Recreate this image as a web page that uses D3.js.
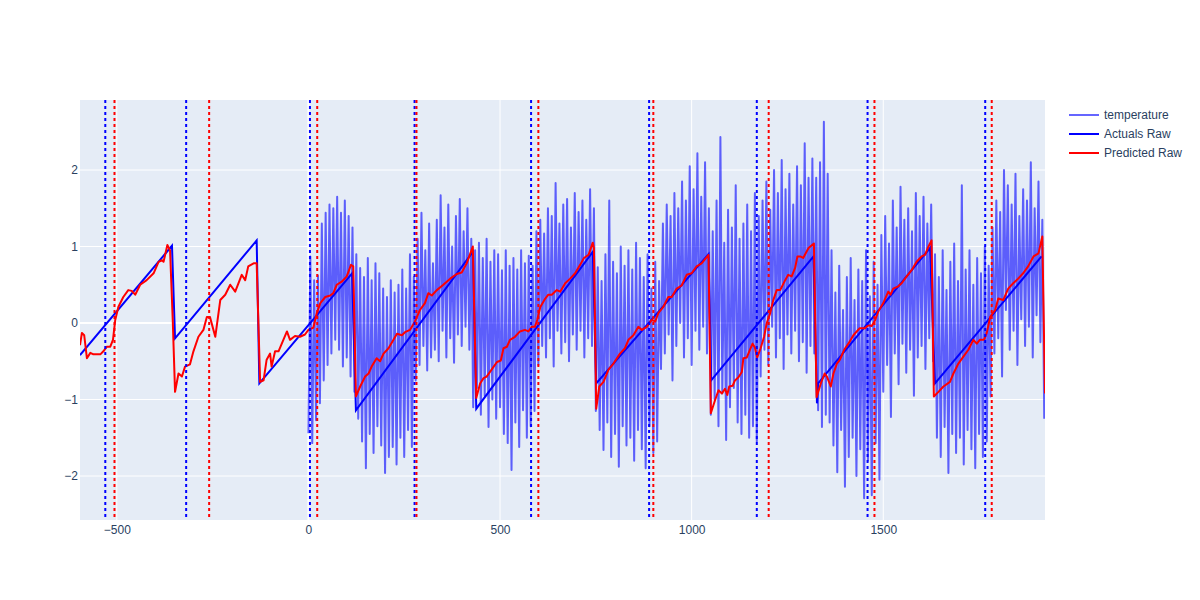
<!DOCTYPE html>
<html>
<head>
<meta charset="utf-8">
<script src="https://cdn.jsdelivr.net/npm/d3@7"></script>
<style>
  body { margin: 0; background: #fff; }
  text { font-family: "Liberation Sans", Arial, sans-serif; }
</style>
</head>
<body>
<div class="canvas"></div>
<script>
// Ticks
const xTicks = [-500, 0, 500, 1000, 1500];
const yTicks = [-2, -1, 0, 1, 2];

// Actuals Raw (segment ends)
const actualsX = [-596, -356, -348, -135, -128, 114, 124, 429, 438, 742, 751, 1044, 1051, 1318, 1327, 1330, 1622, 1635, 1913];
const actualsY = [-0.42, 1.01, -0.20, 1.08, -0.79, 0.65, -1.14, 0.93, -1.12, 0.93, -0.79, 0.90, -0.75, 0.87, -1.05, -0.79, 0.98, -0.79, 0.87];

// Predicted Raw
const predX = [-596, -591, -585, -578, -569, -561, -543, -535, -526, -517, -510, -504, -496, -483, -470, -461, -452, -439, -422, -404,
  -391, -382, -378, -368, -361, -354, -348, -339, -330, -322, -309, -300, -287, -274, -265, -257, -243, -230, -217, -204,
  -191, -174, -165, -157, -143, -135, -126, -117, -109, -100, -96, -87, -78, -67, -56, -48, -35, -22, -9, 0,
  13, 22, 31, 44, 57, 65, 74, 87, 100, 111, 117, 124, 135, 148, 157, 165, 178, 187, 196, 209,
  222, 231, 244, 252, 265, 278, 291, 304, 313, 322, 335, 352, 370, 387, 400, 413, 429, 438, 448, 457,
  465, 478, 492, 502, 509, 518, 526, 539, 552, 565, 574, 583, 591, 597, 605, 618, 626, 635, 648, 657,
  670, 683, 696, 709, 719, 731, 742, 745, 751, 759, 770, 783, 796, 813, 826, 835, 848, 861, 870, 883,
  896, 905, 913, 926, 939, 948, 961, 974, 987, 1000, 1013, 1026, 1044, 1050, 1061, 1070, 1079, 1087, 1093, 1098,
  1107, 1113, 1122, 1131, 1135, 1144, 1152, 1159, 1165, 1171, 1180, 1189, 1196, 1205, 1213, 1222, 1231, 1244, 1252, 1261,
  1270, 1276, 1283, 1291, 1305, 1319, 1326, 1337, 1347, 1353, 1363, 1370, 1379, 1387, 1398, 1409, 1422, 1438, 1452, 1461,
  1470, 1479, 1487, 1500, 1513, 1519, 1526, 1539, 1548, 1561, 1574, 1587, 1600, 1609, 1618, 1626, 1632, 1644, 1657, 1674,
  1683, 1696, 1709, 1722, 1735, 1744, 1752, 1763, 1770, 1779, 1792, 1800, 1813, 1826, 1839, 1852, 1865, 1878, 1892, 1905,
  1915, 1922];
const predY = [-0.29, -0.13, -0.16, -0.46, -0.39, -0.41, -0.41, -0.37, -0.31, -0.31, -0.22, 0.04, 0.21, 0.34, 0.43, 0.42, 0.37, 0.50, 0.56, 0.65,
  0.80, 0.82, 0.80, 1.02, 0.95, 0.04, -0.90, -0.66, -0.70, -0.57, -0.54, -0.37, -0.18, -0.09, 0.08, 0.08, -0.18, 0.30, 0.37, 0.50,
  0.41, 0.63, 0.56, 0.74, 0.78, 0.78, -0.77, -0.75, -0.48, -0.40, -0.57, -0.37, -0.37, -0.24, -0.11, -0.22, -0.17, -0.18, -0.15, -0.09,
  -0.06, 0.13, 0.26, 0.34, 0.36, 0.39, 0.50, 0.54, 0.61, 0.76, 0.74, -0.96, -0.83, -0.70, -0.66, -0.57, -0.46, -0.50, -0.40, -0.33,
  -0.22, -0.14, -0.16, -0.12, -0.09, 0.02, 0.17, 0.26, 0.39, 0.36, 0.43, 0.50, 0.58, 0.64, 0.66, 0.78, 1.00, -0.98, -0.79, -0.72,
  -0.70, -0.61, -0.51, -0.49, -0.33, -0.31, -0.22, -0.18, -0.11, -0.09, -0.11, -0.05, -0.05, 0.04, 0.21, 0.32, 0.37, 0.37, 0.43, 0.41,
  0.52, 0.58, 0.65, 0.76, 0.85, 0.89, 1.05, 0.98, -1.12, -0.83, -0.77, -0.61, -0.53, -0.40, -0.33, -0.22, -0.16, -0.05, -0.09, -0.05,
  0.04, 0.02, 0.13, 0.21, 0.34, 0.34, 0.45, 0.49, 0.63, 0.65, 0.74, 0.78, 0.89, -1.18, -1.01, -0.88, -0.92, -0.86, -0.94, -0.83,
  -0.82, -0.75, -0.71, -0.64, -0.46, -0.45, -0.35, -0.27, -0.32, -0.45, -0.33, -0.18, 0.00, 0.13, 0.30, 0.43, 0.43, 0.56, 0.63, 0.61,
  0.72, 0.87, 0.87, 0.85, 0.98, 1.04, -0.97, -0.79, -0.66, -0.70, -0.83, -0.66, -0.53, -0.48, -0.35, -0.27, -0.16, -0.07, -0.07, -0.03,
  -0.04, 0.04, 0.15, 0.26, 0.41, 0.37, 0.45, 0.48, 0.52, 0.61, 0.69, 0.80, 0.87, 0.89, 1.00, 1.08, -0.96, -0.90, -0.83, -0.77,
  -0.66, -0.53, -0.44, -0.35, -0.22, -0.27, -0.22, -0.22, -0.13, 0.08, 0.17, 0.32, 0.30, 0.45, 0.52, 0.58, 0.65, 0.74, 0.87, 0.91,
  1.13, -0.92];

// temperature, one reading every 5 units from x = 0
const tempStart = 0;
const tempStep = 5;
const tempValues = [
  -1.44, 0.87, -1.57, 0.56, -1.27, 0.62, -1.05, 1.30, -0.75, 1.44, -0.55, 1.55, -0.40, 1.50, -0.22, 1.65, -0.35, 1.44, -0.57, 1.60,
  -0.45, 1.40, -0.70, 1.25, -0.90, 0.90, -1.25, 0.72, -1.55, 0.60, -1.90, 0.85, -1.45, 0.56, -1.70, 0.78, -1.35, 0.65, -1.60, 0.45,
  -1.96, 0.34, -1.75, 0.56, -1.62, 0.40, -1.85, 0.50, -1.50, 0.70, -1.75, 0.45, -1.40, 0.90, -1.62, 0.60, -0.75, 1.10, -0.55, 1.44,
  -0.30, 0.95, -0.62, 1.30, -0.45, 0.78, -0.35, 1.35, -0.50, 1.67, -0.10, 1.25, -0.45, 1.55, -0.20, 1.00, -0.52, 1.40, -0.15, 1.62,
  -0.30, 1.20, -0.05, 1.50, -0.35, 1.10, -1.10, 0.95, -0.85, 1.05, -1.20, 0.85, -0.95, 1.10, -1.36, 0.80, -1.00, 0.95, -1.25, 0.90,
  -1.10, 0.69, -1.45, 0.95, -1.57, 0.75, -1.92, 0.85, -1.30, 0.70, -1.62, 0.95, -1.14, 0.78, -1.50, 0.88, -1.35, 0.75, -1.15, 1.20,
  -0.55, 1.35, -0.30, 1.17, -0.45, 1.50, -0.20, 1.40, -0.57, 1.83, -0.10, 1.30, -0.40, 1.55, -0.25, 1.62, -0.50, 1.25, -0.15, 1.70,
  -0.35, 1.45, -0.10, 1.60, -0.45, 1.35, -0.20, 1.75, -0.30, 1.50, -1.15, 0.73, -1.40, 0.55, -1.66, 0.90, -1.30, 1.60, -1.75, 0.80,
  -1.45, 0.65, -1.88, 1.00, -1.35, 0.75, -1.60, 0.95, -1.50, 0.70, -1.80, 1.05, -1.40, 0.85, -1.65, 0.60, -1.90, 0.90, -1.35, 0.45,
  -1.70, 0.80, -1.55, 0.55, -0.60, 1.30, -0.40, 1.55, -0.15, 1.40, -0.75, 1.70, -0.30, 1.50, 0.00, 1.85, -0.45, 1.60, -0.20, 2.05,
  -0.55, 1.75, -0.10, 2.22, -0.35, 1.65, -0.05, 2.10, -0.40, 1.50, -1.20, 1.20, -1.00, 1.60, -1.35, 2.43, -0.92, 1.05, -1.53, 1.48,
  -1.10, 1.25, -0.85, 1.80, -1.30, 1.10, -1.45, 1.30, -1.20, 1.55, -1.50, 1.20, -1.35, 1.70, -1.55, 1.40, -0.70, 1.60, -0.35, 1.85,
  -0.55, 1.48, -0.05, 2.00, -0.45, 1.70, -0.20, 2.13, -0.60, 1.75, -0.15, 1.95, -0.40, 1.55, -0.10, 2.05, -0.50, 1.80, -0.25, 2.35,
  -0.65, 1.90, -0.30, 2.15, -0.40, 1.90, -1.14, 2.10, -1.36, 2.63, -1.20, 1.95, -1.30, 0.95, -1.60, 0.40, -1.95, 0.75, -1.40, 0.17,
  -2.14, 0.60, -1.75, 0.85, -1.50, 0.30, -2.00, 0.70, -1.65, 0.55, -2.29, 0.95, -1.80, 0.35, -2.25, 0.80, -1.57, 0.50, -2.05, 1.15,
  -0.90, 1.40, -0.55, 1.04, -1.23, 1.60, -0.40, 1.25, -0.80, 1.78, -0.27, 1.35, -0.65, 1.50, -0.35, 1.20, -0.95, 1.70, -0.45, 1.40,
  -0.30, 1.65, -0.60, 1.30, -0.20, 1.55, -0.50, 0.90, -1.50, 0.60, -1.75, 0.95, -1.36, 0.43, -1.96, 0.80, -1.45, 1.04, -1.70, 0.55,
  -1.50, 1.80, -1.85, 0.70, -1.40, 0.95, -1.65, 0.50, -1.90, 0.85, -1.45, 0.65, -1.75, 1.00, -1.55, 0.75, -0.96, 1.25, -0.40, 1.60,
  -0.20, 1.45, -0.70, 2.00, 0.17, 1.80, -0.35, 1.55, -0.10, 1.95, -0.55, 1.40, 0.05, 1.75, -0.30, 1.60, -0.05, 2.10, -0.45, 1.50,
  0.10, 1.85, -0.25, 1.35, -1.25
];

// vline positions
const actualLines = [-530, -319, 4, 277, 581, 889, 1170, 1459, 1766];
const predLines = [-506, -259, 23, 282, 600, 900, 1201, 1477, 1783];

// legend
const legendNames = ['temperature', 'Actuals Raw', 'Predicted Raw'];

// Graph set up
const svgWidth = 1200;
const svgHeight = 600;
const margin = {top: 100, right: 155, bottom: 80, left: 80};
const graphWidth = svgWidth - margin.left - margin.right;
const graphHeight = svgHeight - margin.top - margin.bottom;

const svg = d3.select('.canvas')
    .append('svg')
    .attr('width', svgWidth)
    .attr('height', svgHeight);

const graph = svg.append('g')
    .attr('transform', `translate(${margin.left},${margin.top})`);

graph.append('rect')
    .attr('width', graphWidth)
    .attr('height', graphHeight)
    .attr('fill', '#e5ecf6');

svg.append('defs').append('clipPath')
    .attr('id', 'clip')
    .append('rect')
    .attr('width', graphWidth)
    .attr('height', graphHeight);

// Scales
const x = d3.scaleLinear().domain([-596, 1922]).range([0, graphWidth]);
const y = d3.scaleLinear().domain([-2.575, 2.915]).range([graphHeight, 0]);

// Grid
graph.append('g').selectAll('line')
    .data(xTicks)
    .enter().append('line')
    .attr('x1', d => x(d)).attr('x2', d => x(d))
    .attr('y1', 0).attr('y2', graphHeight)
    .attr('stroke', '#fff')
    .attr('stroke-width', d => d === 0 ? 2 : 1);

graph.append('g').selectAll('line')
    .data(yTicks)
    .enter().append('line')
    .attr('x1', 0).attr('x2', graphWidth)
    .attr('y1', d => y(d)).attr('y2', d => y(d))
    .attr('stroke', '#fff')
    .attr('stroke-width', d => d === 0 ? 2 : 1);

// Axes
const xAxisGroup = graph.append('g')
    .attr('transform', `translate(0,${graphHeight})`)
    .call(d3.axisBottom(x).tickValues(xTicks).tickSize(0).tickPadding(5).tickFormat(d3.format('d')));

const yAxisGroup = graph.append('g')
    .call(d3.axisLeft(y).tickValues(yTicks).tickSize(0).tickPadding(2).tickFormat(d3.format('d')));

[xAxisGroup, yAxisGroup].forEach(g => {
    g.select('.domain').remove();
    g.selectAll('text')
        .attr('fill', '#2a3f5f')
        .style('font-size', '12px')
        .style('font-family', '"Liberation Sans", Arial, sans-serif');
});

// line generator
const line = d3.line()
    .x(d => x(d.x))
    .y(d => y(d.y));

const plot = graph.append('g').attr('clip-path', 'url(#clip)');

const tempData = tempValues.map((v, i) => ({x: tempStart + i * tempStep, y: v}));
const actualsData = actualsX.map((v, i) => ({x: v, y: actualsY[i]}));
const predData = predX.map((v, i) => ({x: v, y: predY[i]}));

plot.append('path')
    .datum(tempData)
    .attr('fill', 'none')
    .attr('stroke', 'blue')
    .attr('stroke-width', 2)
    .attr('stroke-linejoin', 'round')
    .attr('opacity', 0.6)
    .attr('d', line);

plot.append('path')
    .datum(actualsData)
    .attr('fill', 'none')
    .attr('stroke', 'blue')
    .attr('stroke-width', 2)
    .attr('d', line);

plot.append('path')
    .datum(predData)
    .attr('fill', 'none')
    .attr('stroke', 'red')
    .attr('stroke-width', 2)
    .attr('stroke-linejoin', 'round')
    .attr('d', line);

// dotted vlines
const vlines = plot.append('g');
[[actualLines, 'blue'], [predLines, 'red']].forEach(([vals, col]) => {
    vlines.append('g').selectAll('line')
        .data(vals)
        .enter().append('line')
        .attr('x1', d => x(d)).attr('x2', d => x(d))
        .attr('y1', 0).attr('y2', graphHeight)
        .attr('stroke', col)
        .attr('stroke-width', 2)
        .attr('stroke-dasharray', '3,3');
});

// Legend
const legend = svg.append('g').attr('transform', 'translate(1069,115)');
const legendStyles = [
    {stroke: 'blue', opacity: 0.6},
    {stroke: 'blue', opacity: 1},
    {stroke: 'red', opacity: 1}
];
legendNames.forEach((name, i) => {
    const item = legend.append('g').attr('transform', `translate(0,${i * 19})`);
    item.append('line')
        .attr('x1', 0).attr('x2', 30)
        .attr('stroke', legendStyles[i].stroke)
        .attr('stroke-width', 2)
        .attr('opacity', legendStyles[i].opacity);
    item.append('text')
        .attr('x', 35)
        .attr('dy', '0.35em')
        .attr('fill', '#2a3f5f')
        .style('font-size', '12px')
        .text(name);
});
</script>
</body>
</html>
